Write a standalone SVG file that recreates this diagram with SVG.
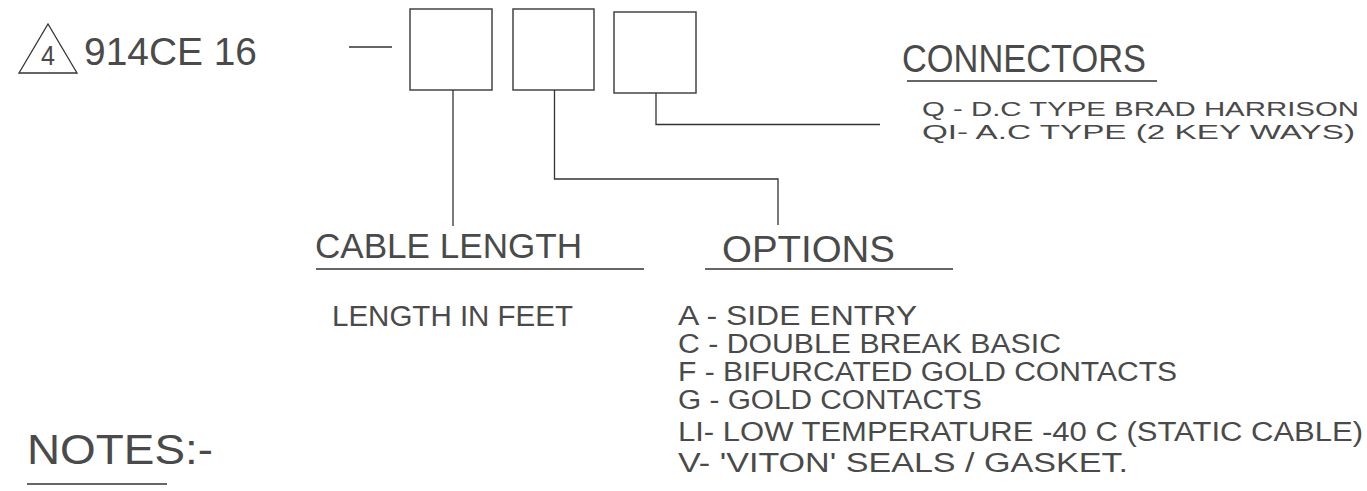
<svg xmlns="http://www.w3.org/2000/svg" width="1367" height="491" viewBox="0 0 1367 491">
<style>
text{font-family:"Liberation Sans",Arial,sans-serif;fill:#4a4a4a;}
.box{fill:none;stroke:#444;stroke-width:1.5;}
.ln{fill:none;stroke:#333;stroke-width:1.3;}
</style>
<rect width="1367" height="491" fill="#fff"/>
<g id="title">
<polygon points="19,73 48,24 77,73" class="ln"/>
<text x="41" y="65" font-size="28" textLength="14" lengthAdjust="spacingAndGlyphs">4</text>
<text x="84" y="65" font-size="39" textLength="173" lengthAdjust="spacingAndGlyphs">914CE 16</text>
<line x1="349" y1="47" x2="392" y2="47" class="ln"/>
</g>
<g id="box-length"><rect x="410" y="9" width="82" height="81" class="box"/></g>
<g id="box-options"><rect x="513" y="9" width="81" height="81" class="box"/></g>
<g id="box-connectors"><rect x="614" y="12" width="82" height="81" class="box"/></g>
<g id="connectors">
<path d="M453,90 V226" class="ln"/>
<path d="M554.5,90 V179 H778 V225" class="ln"/>
<path d="M656,93 V124.5 H880" class="ln"/>
</g>
<g id="connectors-label">
<text x="902" y="72" font-size="39" textLength="244" lengthAdjust="spacingAndGlyphs">CONNECTORS</text>
<line x1="907" y1="81" x2="1157" y2="81" class="ln"/>
<text x="922" y="116" font-size="20" textLength="437" lengthAdjust="spacingAndGlyphs">Q - D.C TYPE BRAD HARRISON</text>
<text x="922" y="139" font-size="20" textLength="433" lengthAdjust="spacingAndGlyphs">QI- A.C TYPE (2 KEY WAYS)</text>
</g>
<g id="cable-length">
<text x="315" y="258" font-size="35" textLength="267" lengthAdjust="spacingAndGlyphs">CABLE LENGTH</text>
<line x1="316" y1="269" x2="644" y2="269" class="ln"/>
<text x="332" y="326" font-size="29" textLength="241" lengthAdjust="spacingAndGlyphs">LENGTH IN FEET</text>
</g>
<g id="options">
<text x="722" y="262" font-size="36" textLength="173" lengthAdjust="spacingAndGlyphs">OPTIONS</text>
<line x1="705" y1="269" x2="953" y2="269" class="ln"/>
<text x="678" y="325" font-size="27" textLength="239" lengthAdjust="spacingAndGlyphs">A - SIDE ENTRY</text>
<text x="678" y="353" font-size="27" textLength="383" lengthAdjust="spacingAndGlyphs">C - DOUBLE BREAK BASIC</text>
<text x="678" y="381" font-size="27" textLength="499" lengthAdjust="spacingAndGlyphs">F - BIFURCATED GOLD CONTACTS</text>
<text x="678" y="409" font-size="27" textLength="304" lengthAdjust="spacingAndGlyphs">G - GOLD CONTACTS</text>
<text x="678" y="441" font-size="27" textLength="685" lengthAdjust="spacingAndGlyphs">LI- LOW TEMPERATURE -40 C (STATIC CABLE)</text>
<text x="678" y="472" font-size="27" textLength="450" lengthAdjust="spacingAndGlyphs">V- 'VITON' SEALS / GASKET.</text>
</g>
<g id="notes">
<text x="27" y="464" font-size="43" textLength="186" lengthAdjust="spacingAndGlyphs">NOTES:-</text>
<line x1="27" y1="484" x2="167" y2="484" class="ln"/>
</g>
</svg>
